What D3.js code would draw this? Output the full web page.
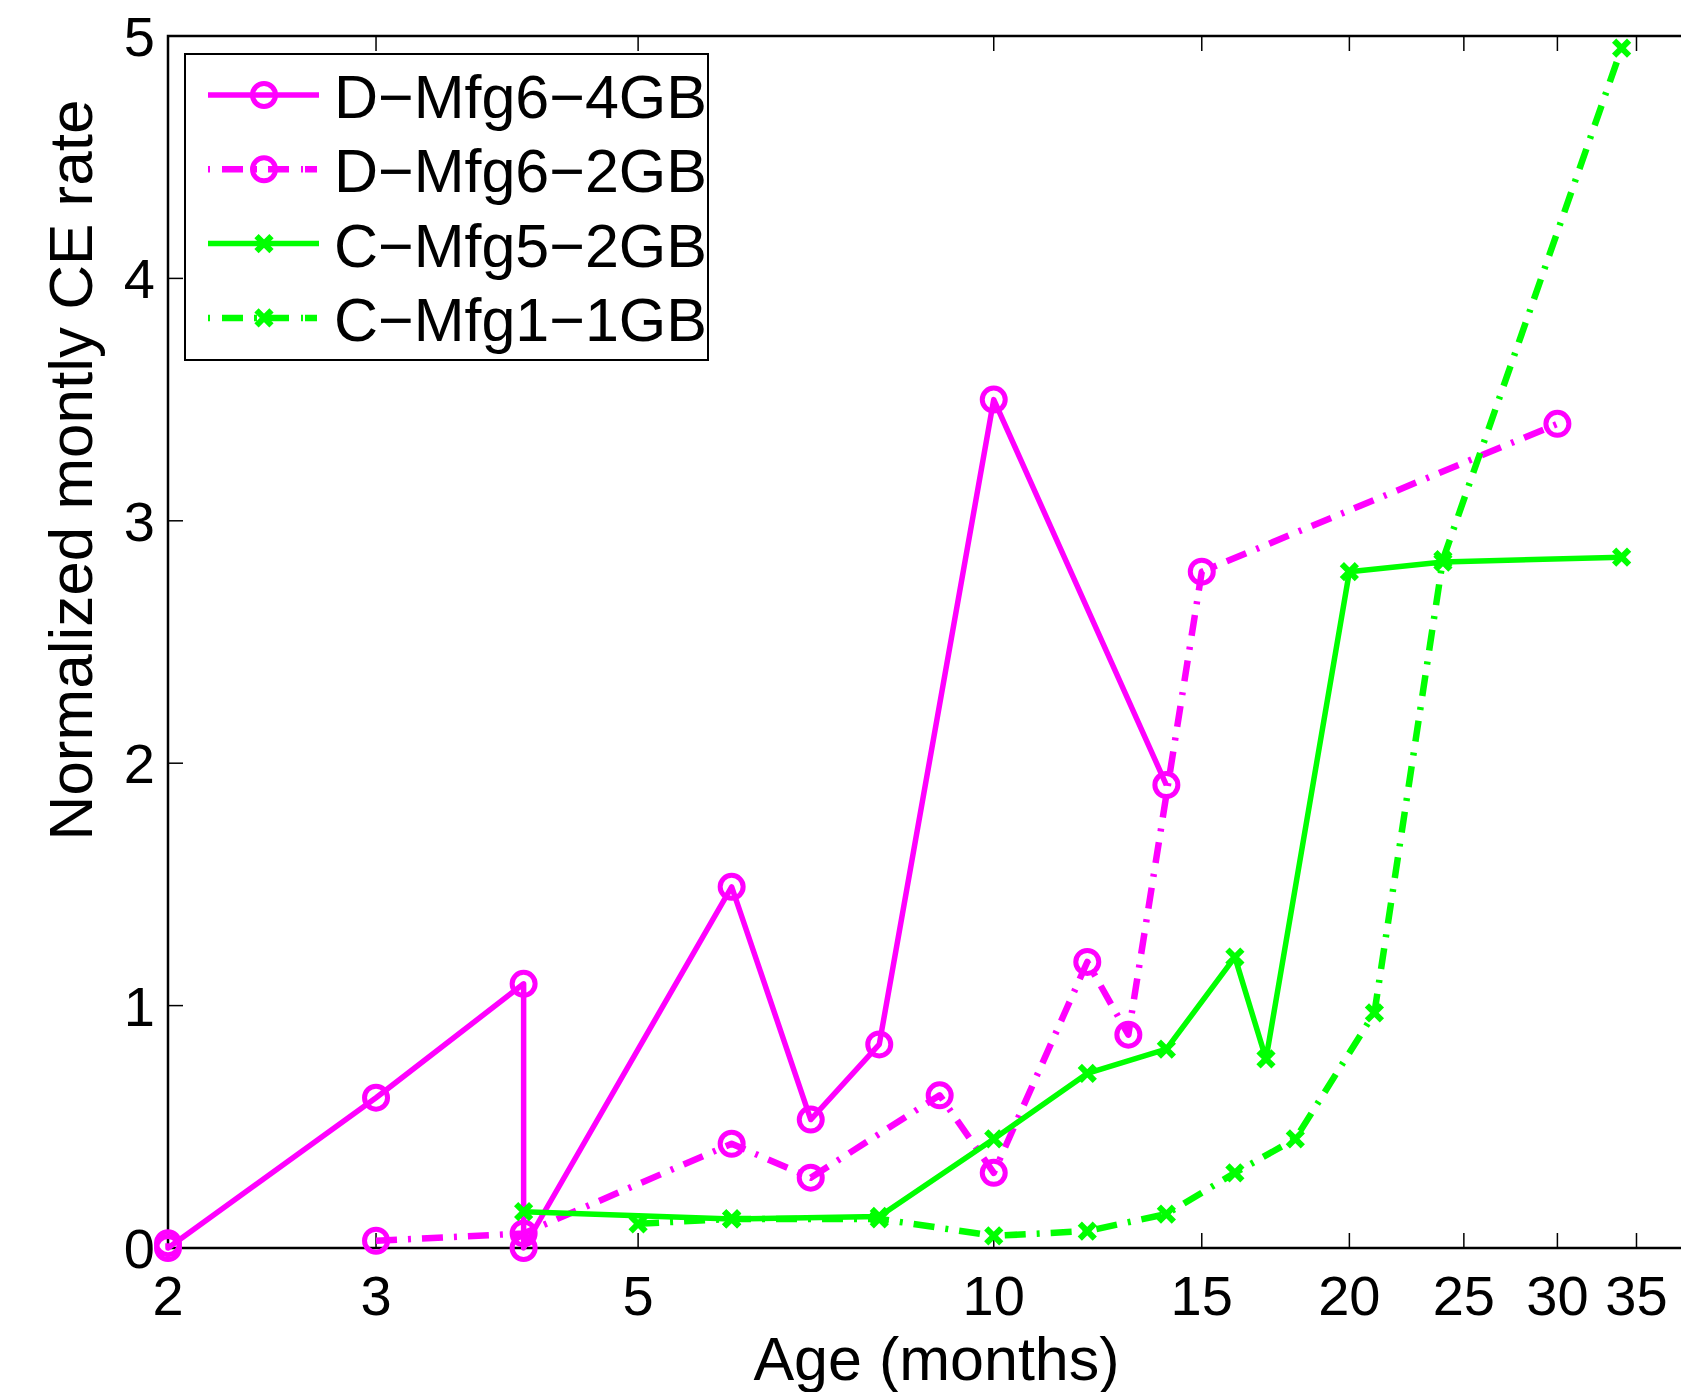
<!DOCTYPE html>
<html>
<head>
<meta charset="utf-8">
<script src="https://cdn.jsdelivr.net/npm/d3@7"></script>
<style>
  body { margin: 0; background: #fff; }
  svg { display: block; }
</style>
</head>
<body>
<div id="chart"></div>
<script>
const ageTicks = [2, 3, 5, 10, 15, 20, 25, 30, 35];
const rateTicks = [0, 1, 2, 3, 4, 5];

const seriesNames = ['D\u2212Mfg6\u22124GB', 'D\u2212Mfg6\u22122GB', 'C\u2212Mfg5\u22122GB', 'C\u2212Mfg1\u22121GB'];

const agesD4 = [2, 2, 3, 4, 4, 6, 7, 8, 10, 14];
const rateD4 = [0.02, 0.0, 0.62, 1.09, 0.0, 1.49, 0.53, 0.84, 3.5, 1.91];

const agesD2 = [3, 4, 6, 7, 9, 10, 12, 13, 15, 30];
const rateD2 = [0.03, 0.06, 0.43, 0.29, 0.63, 0.31, 1.18, 0.88, 2.79, 3.4];

const agesC5 = [4, 6, 8, 10, 12, 14, 16, 17, 20, 24, 34];
const rateC5 = [0.15, 0.12, 0.13, 0.45, 0.72, 0.82, 1.2, 0.78, 2.79, 2.83, 2.85];

const agesC1 = [5, 6, 8, 10, 12, 14, 16, 18, 21, 24, 34];
const rateC1 = [0.1, 0.12, 0.12, 0.05, 0.07, 0.14, 0.31, 0.45, 0.97, 2.84, 4.95];

const DrawChart = (element) => {
  const width = 1681;
  const height = 1392;
  const left = 168;
  const top = 36;
  const bottom = 1248;
  const right = 1705; // axes box runs past the picture edge
  const magenta = '#ff00ff';
  const green = '#00ff00';
  const dashDot = '21,11,3,11';
  const font = '"Liberation Sans", Arial, Helvetica, sans-serif';

  const series = [
    { name: seriesNames[0], ages: agesD4, rates: rateD4, color: magenta, dash: null, marker: 'o' },
    { name: seriesNames[1], ages: agesD2, rates: rateD2, color: magenta, dash: dashDot, marker: 'o' },
    { name: seriesNames[2], ages: agesC5, rates: rateC5, color: green, dash: null, marker: 'x' },
    { name: seriesNames[3], ages: agesC1, rates: rateC1, color: green, dash: dashDot, marker: 'x' }
  ];

  d3.select(element).select('svg').remove();

  const svg = d3
    .select(element)
    .append('svg')
    .attr('width', width)
    .attr('height', height)
    .style('font-family', font);

  svg.append('rect').attr('width', width).attr('height', height).attr('fill', '#fff');

  const x = d3.scaleLog().domain([2, 40]).range([left, right]);
  const y = d3.scaleLinear().domain([0, 5]).range([bottom, top]);

  // axes box
  svg
    .append('rect')
    .attr('x', left)
    .attr('y', top)
    .attr('width', right - left)
    .attr('height', bottom - top)
    .attr('fill', 'none')
    .attr('stroke', '#000')
    .attr('stroke-width', 2.5);

  const tickLen = 15;
  const axisG = svg.append('g').attr('stroke', '#000').attr('stroke-width', 1.5);

  ageTicks.forEach((t) => {
    axisG.append('line').attr('x1', x(t)).attr('x2', x(t)).attr('y1', bottom).attr('y2', bottom - tickLen);
    axisG.append('line').attr('x1', x(t)).attr('x2', x(t)).attr('y1', top).attr('y2', top + tickLen);
  });
  rateTicks.forEach((t) => {
    axisG.append('line').attr('x1', left).attr('x2', left + tickLen).attr('y1', y(t)).attr('y2', y(t));
  });

  svg
    .append('g')
    .attr('font-size', 56)
    .attr('text-anchor', 'middle')
    .selectAll('text')
    .data(ageTicks)
    .enter()
    .append('text')
    .attr('x', (d) => x(d))
    .attr('y', 1315)
    .text((d) => d);

  svg
    .append('g')
    .attr('font-size', 56)
    .attr('text-anchor', 'end')
    .selectAll('text')
    .data(rateTicks)
    .enter()
    .append('text')
    .attr('x', 155)
    .attr('y', (d) => y(d) + 20)
    .text((d) => d);

  svg
    .append('text')
    .attr('x', (left + right) / 2)
    .attr('y', 1380)
    .attr('text-anchor', 'middle')
    .attr('font-size', 61)
    .text('Age (months)');

  svg
    .append('text')
    .attr('transform', 'translate(92, 470) rotate(-90)')
    .attr('text-anchor', 'middle')
    .attr('font-size', 62)
    .text('Normalized montly CE rate');

  const drawMarker = (g, kind, color) => {
    if (kind === 'o') {
      g.append('circle')
        .attr('r', 11.5)
        .attr('fill', 'none')
        .attr('stroke', color)
        .attr('stroke-width', 5);
    } else {
      g.append('path')
        .attr('d', 'M-7.5,-7.5L7.5,7.5M-7.5,7.5L7.5,-7.5')
        .attr('fill', 'none')
        .attr('stroke', color)
        .attr('stroke-width', 6);
    }
  };

  const line = d3
    .line()
    .x((d) => x(d[0]))
    .y((d) => y(d[1]));

  series.forEach((s) => {
    const pts = s.ages.map((a, i) => [a, s.rates[i]]);
    svg
      .append('path')
      .datum(pts)
      .attr('d', line)
      .attr('fill', 'none')
      .attr('stroke', s.color)
      .attr('stroke-width', s.dash ? 6.5 : 5.5)
      .attr('stroke-linejoin', 'round')
      .attr('stroke-dasharray', s.dash);

    pts.forEach((p) => {
      const g = svg.append('g').attr('transform', `translate(${x(p[0])},${y(p[1])})`);
      drawMarker(g, s.marker, s.color);
    });
  });

  // legend
  const legend = svg.append('g');
  legend
    .append('rect')
    .attr('x', 185)
    .attr('y', 54)
    .attr('width', 523)
    .attr('height', 306)
    .attr('fill', '#fff')
    .attr('stroke', '#000')
    .attr('stroke-width', 2);

  const rows = legend
    .selectAll('g')
    .data(series)
    .enter()
    .append('g')
    .attr('transform', (d, i) => `translate(0, ${95 + i * 74.3})`);

  rows
    .append('line')
    .attr('x1', 208)
    .attr('x2', 319)
    .attr('y1', 0)
    .attr('y2', 0)
    .attr('stroke', (d) => d.color)
    .attr('stroke-width', (d) => (d.dash ? 6.5 : 5.5))
    .attr('stroke-dasharray', (d) => (d.dash ? '2,12,21,11,3,11,21,12,2' : null));

  rows.each(function (d) {
    const g = d3.select(this).append('g').attr('transform', 'translate(264, 0)');
    drawMarker(g, d.marker, d.color);
  });

  rows
    .append('text')
    .attr('x', 334)
    .attr('y', 23)
    .attr('font-size', 61)
    .text((d) => d.name);
};

DrawChart(document.getElementById('chart'));
</script>
</body>
</html>
